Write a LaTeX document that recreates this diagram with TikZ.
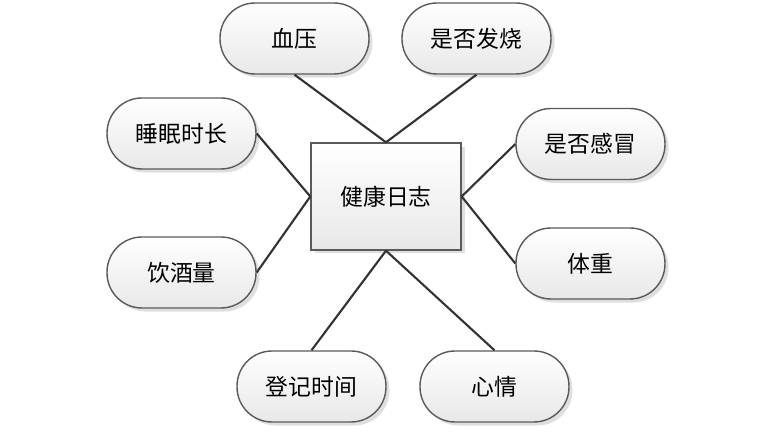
\documentclass[tikz,border=0pt]{standalone}
\usepackage{fontspec}
\newfontfamily\cjk{Noto Sans CJK SC}
\usepackage{xcolor}
\usetikzlibrary{shadows}
\definecolor{linkgray}{HTML}{333333}
\definecolor{rimgray}{HTML}{5A5A5A}

\begin{document}
\begin{tikzpicture}[x=0.02cm, y=-0.02cm, font=\cjk\fontsize{13}{15}\selectfont,
    hub/.style={draw=rimgray, thick, top color=white, bottom color=black!9,
        minimum width=3cm, minimum height=2.14cm,
        drop shadow={shadow xshift=2pt, shadow yshift=-2pt, opacity=0.25, fill=black!50}},
    item/.style={draw=rimgray, thick, rounded corners=0.7cm, top color=white, bottom color=black!9,
        minimum width=2.98cm, minimum height=1.42cm,
        drop shadow={shadow xshift=2pt, shadow yshift=-2pt, opacity=0.25, fill=black!50}},
    link/.style={draw=linkgray, line width=1.2pt}]
    \useasboundingbox (0, 0) rectangle (765, 435);

    % Centre
    \node[hub] (log) at (386, 196.5) {健康日志};

    % Items round it
    \node[item] (bp)    at (294.5, 38.5)  {血压};
    \node[item] (fever) at (476.5, 38.5)  {是否发烧};
    \node[item] (sleep) at (181.5, 133.5) {睡眠时长};
    \node[item] (cold)  at (590.5, 144)   {是否感冒};
    \node[item] (drink) at (181.5, 272.5) {饮酒量};
    \node[item] (weight) at (590.5, 263.5) {体重};
    \node[item] (time)  at (311.5, 386.5) {登记时间};
    \node[item] (mood)  at (494.5, 386.5) {心情};

    % Links
    \draw[link] (log.north) -- (bp.south);
    \draw[link] (log.north) -- (fever.south);
    \draw[link] (log.west) -- (sleep.east);
    \draw[link] (log.west) -- (drink.east);
    \draw[link] (log.east) -- (cold.west);
    \draw[link] (log.east) -- (weight.west);
    \draw[link] (log.south) -- (time.north);
    \draw[link] (log.south) -- (mood.north);
\end{tikzpicture}
\end{document}
